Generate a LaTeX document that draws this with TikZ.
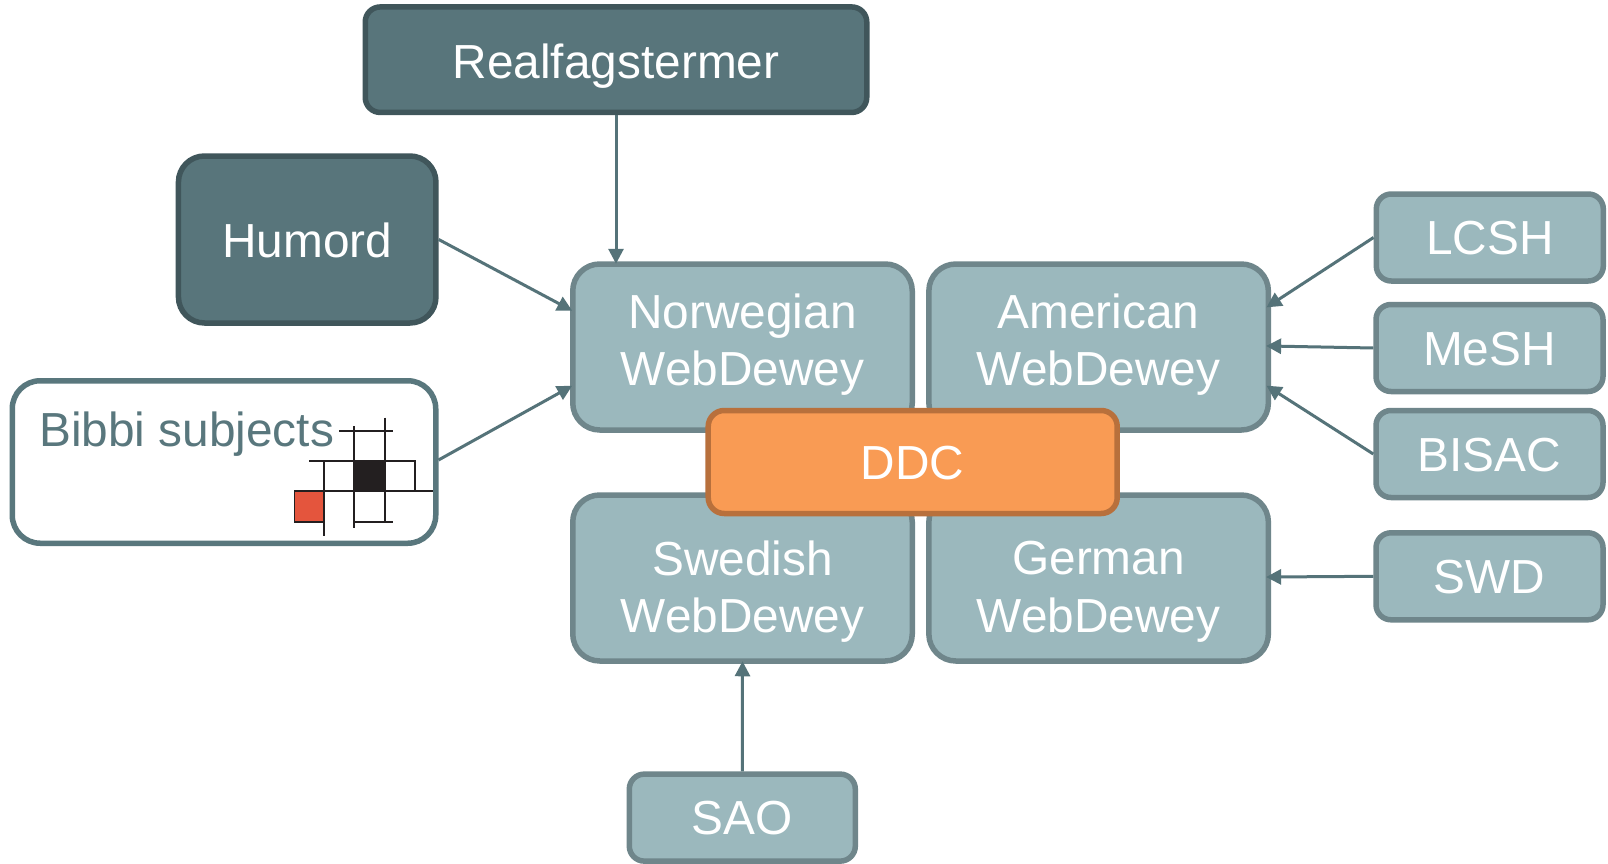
\documentclass[tikz,border=0pt]{standalone}
\usepackage{fontspec}
\setmainfont{Liberation Sans}
\usetikzlibrary{arrows.meta,calc}
\definecolor{lightfill}{HTML}{9BB8BD}
\definecolor{lightline}{HTML}{6F868B}
\definecolor{darkfill}{HTML}{58757B}
\definecolor{darkline}{HTML}{40565B}
\definecolor{orangefill}{HTML}{F99B54}
\definecolor{orangeline}{HTML}{B8703C}
\definecolor{teal}{HTML}{59777D}
\definecolor{arrowcol}{HTML}{557379}
\definecolor{logored}{HTML}{E4553D}
\definecolor{logoblack}{HTML}{231F20}
\tikzset{
  basebox/.style={draw,line width=5.5pt,inner sep=0pt,text=white,align=center,
    font=\fontsize{47.8pt}{57.4pt}\selectfont,text height=34pt,text depth=0pt},
  lightbox/.style={basebox,fill=lightfill,draw=lightline,rounded corners=15pt},
  bigbox/.style={basebox,fill=lightfill,draw=lightline,rounded corners=27pt,
    minimum width=339.5pt,minimum height=166pt},
  darkbox/.style={basebox,fill=darkfill,draw=darkline,rounded corners=15pt},
  orangebox/.style={basebox,fill=orangefill,draw=orangeline,rounded corners=16pt},
  whitebox/.style={draw=teal,fill=white,line width=5.5pt,inner sep=0pt,rounded corners=28pt},
  smallbox/.style={lightbox,minimum width=227pt,minimum height=87pt},
  twoline/.style={text=white,align=center,inner sep=0pt,
    font=\fontsize{47.8pt}{57.4pt}\selectfont},
  conn/.style={draw=arrowcol,line width=3pt,shorten >=-2.5pt,-{Triangle[width=15pt,length=15pt,fill=arrowcol]}},
  logoline/.style={draw=logoblack,line width=1.8pt},
}
\begin{document}
\begin{tikzpicture}[x=1pt,y=-1pt]
\useasboundingbox[fill=white] (0,0) rectangle (1608,864);

\node[darkbox,minimum width=501.5pt,minimum height=105.5pt,text height=37pt] (real) at (616,59.7) {Realfagstermer};
\node[darkbox,rounded corners=26pt,minimum width=257.5pt,minimum height=167pt,text height=36pt] (humord) at (307.2,239.5) {Humord};
\node[whitebox,minimum width=423.5pt,minimum height=162.5pt] (bibbi) at (224,462) {};
\node[anchor=base west,inner sep=0pt,text=teal,font=\fontsize{47.8pt}{57.4pt}\selectfont] (bibbitext) at (39,446) {Bibbi subjects};

% logo
\fill[logored] (294.5,491) rectangle (324.3,521.7);
\fill[logoblack] (354.3,461) rectangle (385,491);
\draw[logoline] (294.5,491) rectangle (324.3,521.7);
\draw[logoline] (339.3,431) -- (392.7,431);
\draw[logoline] (354.3,426) -- (354.3,528);
\draw[logoline] (385,417.7) -- (385,521.7);
\draw[logoline] (309.3,461) -- (415,461) -- (415,491);
\draw[logoline] (294.5,491) -- (433.3,491);
\draw[logoline] (324.3,461) -- (324.3,536);
\draw[logoline] (354.3,521.7) -- (392.7,521.7);

\node[bigbox] (nor) at (742.5,347) {};
\node[bigbox] (ame) at (1098.6,347) {};
\node[bigbox] (swe) at (742.5,578) {};
\node[bigbox] (ger) at (1098.6,578) {};
\node[twoline] (nortext) at (742.5,344.6) {Norwegian\\WebDewey};
\node[twoline] (ametext) at (1098.6,344.6) {American\\WebDewey};
\node[twoline] (swetext) at (742.5,591.6) {Swedish\\WebDewey};
\node[twoline] (gertext) at (1098.6,591.6) {German\\WebDewey};
\node[orangebox,minimum width=409pt,minimum height=103pt] (ddc) at (912.7,462) {DDC};

\node[smallbox] (lcsh) at (1489.8,237.5) {LCSH};
\node[smallbox] (mesh) at (1489.5,348) {MeSH};
\node[smallbox] (bisac) at (1489.5,454) {BISAC};
\node[smallbox] (swd) at (1489.5,576.3) {SWD};
\node[lightbox,minimum width=226pt,minimum height=87pt] (sao) at (742.3,817.6) {SAO};

\draw[conn] (real.south) -- (real.south |- nor.north);
\draw[conn] (humord.east) -- ($(nor.west)+(0,-37.5)$);
\draw[conn] (bibbi.east) ++(0,-2) -- ($(nor.west)+(0,40)$);
\draw[conn] (lcsh.west) -- ($(ame.east)+(-2.5,-41)$);
\draw[conn] (mesh.west) -- ($(ame.east)+(-2.5,-1)$);
\draw[conn] (bisac.west) -- ($(ame.east)+(-2.5,40)$);
\draw[conn] (swd.west) -- ($(ger.east)+(-2.5,-1)$);
\draw[conn] (sao.north) -- (swe.south);
\end{tikzpicture}
\end{document}
